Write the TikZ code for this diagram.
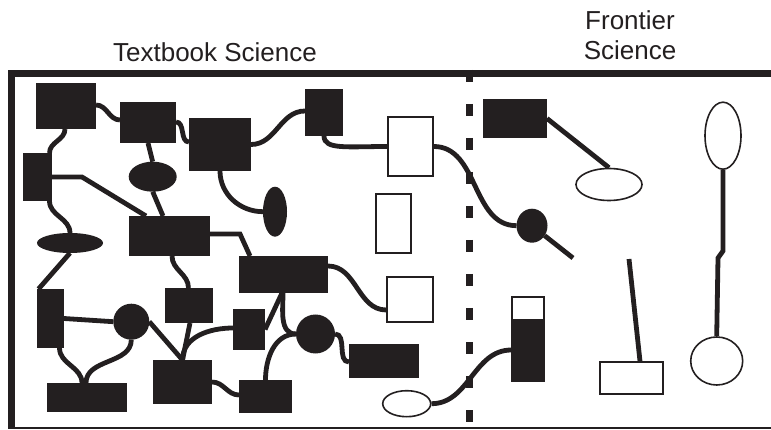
\documentclass[tikz,border=0pt]{standalone}
\usepackage{fontspec}
\setmainfont{Liberation Sans}
\usepackage{xcolor}
\definecolor{pInk}{HTML}{231F20}
\usepackage{tikz}
\usetikzlibrary{
  arrows.meta, positioning, shapes.geometric, backgrounds, calc
}

\begin{document}
\begin{tikzpicture}[x=1pt, y=1pt,
  fbox/.style={rectangle, fill=pInk, inner sep=0pt, outer sep=0pt},
  obox/.style={rectangle, draw=pInk, line width=1.6pt, fill=white, inner sep=0pt},
  fell/.style={ellipse, fill=pInk, inner sep=0pt, outer sep=0pt},
  oell/.style={ellipse, draw=pInk, line width=1.6pt, fill=white, inner sep=0pt},
  link/.style={draw=pInk, line width=4.8pt},
  label/.style={font=\fontsize{26}{30}\selectfont, text=pInk, inner sep=0pt}
]
\useasboundingbox (0,0) rectangle (771,-430);

% frame and frontier line
\draw[pInk, line width=7pt] (771,-73.5) -- (11.5,-73.5) -- (11.5,-428.5);
\draw[pInk, line width=2pt] (8,-427.5) -- (771,-427.5);
\draw[pInk, line width=7pt, dash pattern=on 12pt off 22pt] (469.5,-70) -- (469.5,-428);

\node[label, anchor=base] (tbLabel) at (215,-61.5) {Textbook Science};
\node[label, anchor=south, align=center] (frLabel) at (630,-60) {Frontier\\Science};

% textbook side
\node[fbox, minimum width=60pt, minimum height=46pt] (fA) at (66,-106) {};
\node[fbox, minimum width=56pt, minimum height=41pt] (fB) at (148,-122.5) {};
\node[fbox, minimum width=62pt, minimum height=53pt] (fC) at (220,-144.5) {};
\node[fbox, minimum width=29pt, minimum height=48pt] (fD) at (37.5,-177) {};
\node[fbox, minimum width=81pt, minimum height=40pt] (fF) at (169.5,-236) {};
\node[fbox, minimum width=38pt, minimum height=47pt] (fG) at (324,-112.5) {};
\node[fbox, minimum width=89pt, minimum height=37pt] (fH) at (283.5,-274.5) {};
\node[fbox, minimum width=32pt, minimum height=41pt] (fL) at (249,-329.5) {};
\node[fbox, minimum width=70pt, minimum height=34pt] (fN) at (384,-361) {};
\node[fbox, minimum width=53pt, minimum height=33pt] (fO) at (265.5,-396.5) {};
\node[fbox, minimum width=48pt, minimum height=35pt] (fR) at (189,-305.5) {};
\node[fbox, minimum width=59pt, minimum height=44pt] (fS) at (182.5,-382) {};
\node[fbox, minimum width=27pt, minimum height=59pt] (fT) at (50.5,-318.5) {};
\node[fbox, minimum width=80pt, minimum height=29pt] (fV) at (87,-397.5) {};

\node[fell, minimum width=48pt, minimum height=30pt] (eA) at (152.7,-176.7) {};
\node[fell, minimum width=66pt, minimum height=20pt] (eB) at (70,-243) {};
\node[fell, minimum width=24pt, minimum height=50pt] (eC) at (275,-211.7) {};
\node[fell, minimum width=39pt, minimum height=39pt] (cM) at (315.5,-334) {};
\node[fell, minimum width=36pt, minimum height=36pt] (cU) at (131.3,-321.7) {};

\node[obox, minimum width=45pt, minimum height=59pt] (oI) at (410.5,-146.5) {};
\node[obox, minimum width=35pt, minimum height=59pt] (oJ) at (393.5,-223.5) {};
\node[obox, minimum width=46pt, minimum height=45pt] (oK) at (410,-299.5) {};
\node[oell, minimum width=48pt, minimum height=26pt] (oP) at (406.7,-403.7) {};

% frontier side
\node[fbox, minimum width=64pt, minimum height=39pt] (fW) at (515,-118.5) {};
\node[fell, minimum width=31pt, minimum height=34pt] (cR) at (532,-225.7) {};
\node[obox, minimum width=32pt, minimum height=84pt,
  path picture={\fill[pInk] (path picture bounding box.south west)
    rectangle ([yshift=-22pt]path picture bounding box.north east);}] (oQ) at (528,-339) {};
\node[oell, minimum width=66pt, minimum height=32pt] (oX) at (609,-184.5) {};
\node[oell, minimum width=36pt, minimum height=67pt] (oY) at (723,-135.7) {};
\node[oell, minimum width=52pt, minimum height=48pt] (oZ) at (716.7,-361) {};
\node[obox, minimum width=63pt, minimum height=32pt] (oAA) at (631.5,-378) {};
\coordinate (tailR) at (573,-258);
\coordinate (tailA) at (629,-259);

\begin{scope}[on background layer]
\draw[link] ([yshift=1pt]fA.east) to[out=0,in=180] ([yshift=2.5pt]fB.west);
\draw[link] ([yshift=0.5pt]fB.east) to[out=0,in=180] ([yshift=2.5pt]fC.west);
\draw[link] (fC.east) to[out=0,in=180] ([yshift=1.5pt]fG.west);
\draw[link] ([xshift=-1pt]fA.south) to[out=-90,in=90] ([xshift=12pt]fD.north);
\draw[link] (fD.east) -- ++(30,0) -- ([xshift=-23.5pt]fF.north);
\draw[link] (fB.south) -- (eA.north);
\draw[link] (eA.south) -- ([xshift=-6.5pt]fF.north);
\draw[link] ([xshift=12pt]fD.south) to[out=-90,in=90] (eB.north);
\draw[link] (fC.south) to[out=-90,in=180] (eC.west);
\draw[link] ([yshift=2pt]fF.east) -- ++(30,0) -- ([xshift=-33.5pt]fH.north);
\draw[link] (fG.south) .. controls +(0,-14) and +(-40,0) .. (oI.west);
\draw[link] (oI.east) to[out=0,in=180] (cR.west);
\draw[link] (cR) -- (tailR);
\draw[link] ([yshift=8.5pt]fH.east) to[out=0,in=180] ([yshift=-10.5pt]oK.west);
\draw[link] ([xshift=-1.5pt]fH.south) -- (fL.east);
\draw[link] ([xshift=-0.5pt]fH.south) to[out=-90,in=180] (cM.west);
\draw[link] (cM.west) to[out=180,in=90] (fO.north);
\draw[link] (cM.east) to[out=0,in=180] ([yshift=-1pt]fN.west);
\draw[link] (oP.east) to[out=0,in=180] ([yshift=-11pt]oQ.west);
\draw[link] ([xshift=2.5pt]fF.south) to[out=-90,in=90] ([xshift=-0.5pt]fR.north);
\draw[link] ([xshift=1pt]fR.south) -- (fS.north);
\draw[link] (fS.north) to[out=90,in=180] ([yshift=1.5pt]fL.west);
\draw[link] (fS.east) to[out=0,in=180] ([yshift=1.5pt]fO.west);
\draw[link] (eB.south) -- ([xshift=-12pt]fT.north);
\draw[link] (fT.east) -- (cU.west);
\draw[link] (cU.east) -- (fS.north);
\draw[link] ([xshift=9pt]fT.south) to[out=-90,in=90] ([xshift=-5pt]fV.north);
\draw[link] (cU.south) to[out=-90,in=90] ([xshift=-1pt]fV.north);
\draw[link] (fW.east) -- (oX.north);
\draw[link] (oY.south) -- ++(0,-81) -- ++(-5,-7) -- (oZ.north);
\draw[link] (tailA) -- ([xshift=8.5pt]oAA.north);
\end{scope}
\end{tikzpicture}
\end{document}
